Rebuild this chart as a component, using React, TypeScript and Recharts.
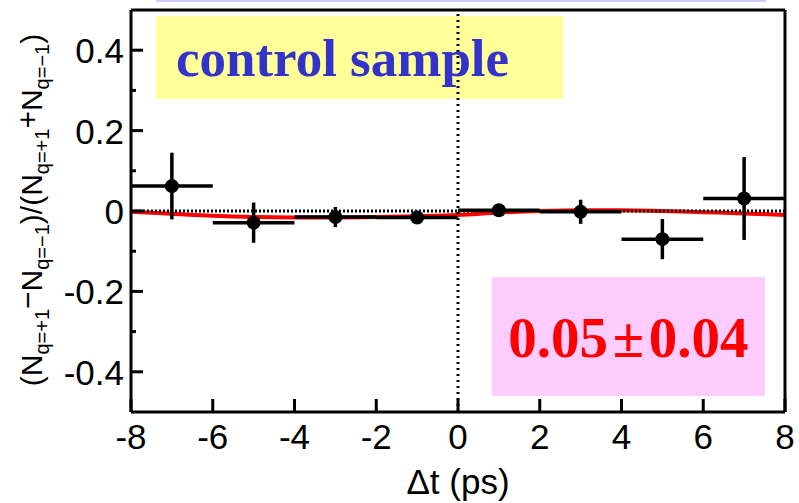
import React from 'react';
import {
  ComposedChart,
  XAxis,
  YAxis,
  Line,
  Scatter,
  ErrorBar,
  ReferenceLine,
  ReferenceArea,
} from 'recharts';

// binned asymmetry (control sample)
const binCenters = [-7, -5, -3, -1, 1, 3, 5, 7];
const binHalfWidths = [1, 1, 1, 1, 1, 1, 1, 1];
const asymmetry = [0.062, -0.029, -0.015, -0.016, 0.002, -0.002, -0.07, 0.031];
const asymmetryErr = [0.083, 0.05, 0.025, 0.01, 0.008, 0.03, 0.05, 0.103];

// fitted curve
const fitTimes = [-8, -7, -6, -5, -4, -3, -2, -1, 0, 1, 2, 3, 4, 5, 6, 7, 8];
const fitValues = [
  -0.002, -0.007, -0.012, -0.015, -0.016, -0.016, -0.015, -0.013, -0.01,
  -0.004, 0.0, 0.002, 0.002, 0.0, -0.003, -0.006, -0.01,
];

const xTicks = [-8, -6, -4, -2, 0, 2, 4, 6, 8];
const yTicks = [-0.4, -0.3, -0.2, -0.1, 0, 0.1, 0.2, 0.3, 0.4];
const yMajorTicks = [-0.4, -0.2, 0, 0.2, 0.4];

const boxTitle = 'control sample';
const resultText = '0.05\u200A\u00B1\u200A0.04';
const xTitle = '\u0394t (ps)';
const subPlus = 'q=+1';
const subMinus = 'q=\u22121';

const SANS = '"Liberation Sans", Arial, sans-serif';
const SERIF = '"Liberation Serif", "Times New Roman", serif';

const points = binCenters.map((t, i) => ({
  t,
  a: asymmetry[i],
  xErr: binHalfWidths[i],
  yErr: asymmetryErr[i],
}));

const fitData = fitTimes.map((t, i) => ({ t, v: fitValues[i] }));

const XTick = (props: any) => {
  const { x, y, payload } = props;
  return (
    <g>
      <line x1={x} x2={x} y1={y} y2={y - 13} stroke="#000" strokeWidth={3} />
      <text x={x} y={y + 37} textAnchor="middle" fontSize={35} fontFamily={SANS} fill="#000">
        {String(payload.value)}
      </text>
    </g>
  );
};

const YTick = (props: any) => {
  const { x, y, payload } = props;
  const major = yMajorTicks.some((v) => Math.abs(v - payload.value) < 1e-9);
  return (
    <g>
      <line x1={x} x2={x + (major ? 12 : 5)} y1={y} y2={y} stroke="#000" strokeWidth={3} />
      {major && (
        <text x={x - 7} y={y + 13} textAnchor="end" fontSize={35} fontFamily={SANS} fill="#000">
          {String(payload.value)}
        </text>
      )}
    </g>
  );
};

// (N_{q=+1} - N_{q=-1}) / (N_{q=+1} + N_{q=-1}), rotated
const YTitle = () => {
  const cx = 42;
  const cy = 210;
  const F = 30;
  const S = 20;
  const d = 7;
  return (
    <text
      x={cx}
      y={cy}
      transform={`rotate(-90 ${cx} ${cy})`}
      textAnchor="middle"
      fontSize={F}
      fontFamily={SANS}
      fill="#000"
    >
      <tspan>(N</tspan>
      <tspan dy={d} fontSize={S}>{subPlus}</tspan>
      <tspan dy={-d - 4}>{'\u2212'}</tspan>
      <tspan dy={4}>N</tspan>
      <tspan dy={d} fontSize={S}>{subMinus}</tspan>
      <tspan dy={-d}>)/(N</tspan>
      <tspan dy={d} fontSize={S}>{subPlus}</tspan>
      <tspan dy={-d - 4}>+</tspan>
      <tspan dy={4}>N</tspan>
      <tspan dy={d} fontSize={S}>{subMinus}</tspan>
      <tspan dy={-d}>)</tspan>
    </text>
  );
};

const Dot = (props: any) => {
  const { cx, cy } = props;
  if (cx == null || cy == null) return null;
  return <circle cx={cx} cy={cy} r={7} fill="#000" />;
};

export default function App() {
  return (
    <div style={{ position: 'absolute', left: 0, top: 0, width: 799, height: 503, background: '#fff' }}>
      <div style={{ position: 'absolute', left: 156, top: 0, width: 610, height: 2, background: '#ccccff' }} />
      <ComposedChart width={799} height={503} margin={{ top: 10, right: 14, bottom: 0, left: 0 }}>
        <XAxis
          dataKey="t"
          type="number"
          domain={[-8, 8]}
          ticks={xTicks}
          allowDataOverflow
          height={91}
          tickSize={0}
          tickMargin={0}
          tickLine={false}
          axisLine={{ stroke: '#000', strokeWidth: 3 }}
          tick={<XTick />}
          interval={0}
          label={{
            value: xTitle,
            position: 'insideBottom',
            offset: 9,
            fontSize: 35,
            fontFamily: SANS,
            fill: '#000',
          }}
        />
        <YAxis
          type="number"
          domain={[-0.5, 0.5]}
          ticks={yTicks}
          allowDataOverflow
          width={131}
          tickSize={0}
          tickMargin={0}
          tickLine={false}
          axisLine={{ stroke: '#000', strokeWidth: 3 }}
          tick={<YTick />}
          interval={0}
          label={<YTitle />}
        />
        <ReferenceArea
          x1={-7.39}
          x2={2.57}
          y1={0.279}
          y2={0.485}
          fill="#ffff99"
          fillOpacity={1}
          stroke="none"
          label={{
            value: boxTitle,
            position: 'insideLeft',
            offset: 20,
            fill: '#3333cc',
            fontSize: 53,
            fontWeight: 'bold',
            fontFamily: SERIF,
          }}
        />
        <ReferenceArea
          x1={0.83}
          x2={7.51}
          y1={-0.46}
          y2={-0.164}
          fill="#ffccff"
          fillOpacity={1}
          stroke="none"
          label={{
            value: resultText,
            position: 'center',
            fill: '#ff0000',
            fontSize: 57,
            fontWeight: 'bold',
            fontFamily: SERIF,
          }}
        />
        <Line
          data={fitData}
          dataKey="v"
          type="monotone"
          stroke="#ff0000"
          strokeWidth={4}
          dot={false}
          activeDot={false}
          isAnimationActive={false}
        />
        <ReferenceLine y={0} stroke="#000" strokeWidth={3} strokeDasharray="2 2" />
        <ReferenceLine x={0} stroke="#000" strokeWidth={3} strokeDasharray="2 4" />
        <Scatter data={points} dataKey="a" shape={<Dot />} isAnimationActive={false}>
          <ErrorBar dataKey="xErr" direction="x" width={0} stroke="#000" strokeWidth={3.5} isAnimationActive={false} />
          <ErrorBar dataKey="yErr" direction="y" width={0} stroke="#000" strokeWidth={3.5} isAnimationActive={false} />
        </Scatter>
        <ReferenceLine y={0.5} stroke="#000" strokeWidth={3} />
        <ReferenceLine x={8} stroke="#000" strokeWidth={3} />
      </ComposedChart>
    </div>
  );
}
